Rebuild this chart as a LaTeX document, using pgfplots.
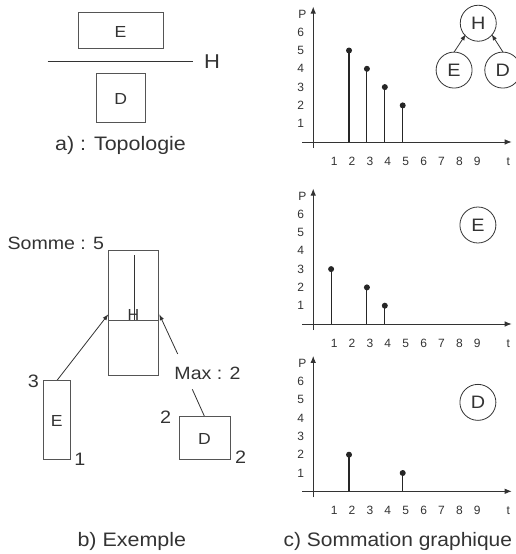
\documentclass[border=0pt]{standalone}
\usepackage{graphicx}
\usepackage{pgfplots}
\pgfplotsset{compat=1.18}
\usepackage{fontspec}
\setmainfont{Liberation Sans}
\usetikzlibrary{arrows.meta}
\definecolor{txt}{HTML}{333333}
\definecolor{ln}{HTML}{555555}
\newcommand{\fs}[1]{\fontsize{#1}{#1}\selectfont}
\newcommand{\sx}[1]{\scalebox{1.1}[1]{#1}}
\pgfplotsset{
  stemaxis/.style={
    x=17.9pt, y=18.3pt,
    xmin=-0.61, xmax=11.09, ymin=-0.33, ymax=7.4,
    axis lines=middle,
    axis line style={line width=0.9pt, txt, -{Latex[length=7pt,width=5.5pt]}},
    xtick={1,...,9}, ytick={1,...,6},
    major tick length=0pt,
    tick label style={font=\fs{12}, text=txt},
    /pgf/number format/assume math mode=true,
    xticklabel style={anchor=center, yshift=-19.5pt, xshift=3pt},
    yticklabel style={anchor=center, xshift=-12.5pt},
    clip=false,
    anchor=south west,
  },
  stem/.style={ycomb, mark=*, mark size=2.4pt, line width=1.1pt, color=black!85},
}
\tikzset{
  circ/.style={circle, draw=txt, line width=0.8pt, minimum size=36pt, inner sep=0pt, font=\fs{18}, text=txt},
}
\begin{document}
\begin{tikzpicture}
\useasboundingbox (0,0) rectangle (515pt,554pt);
% ---- overlay axis in pixel coordinates for diagrams a) and b) ----
\begin{axis}[at={(0pt,0pt)}, anchor=south west, scale only axis,
  width=515pt, height=554pt, xmin=0, xmax=515, ymin=0, ymax=554,
  y dir=reverse, hide axis, clip=false]
% a) Topologie
\draw[ln, line width=0.9pt] (78,12.7) rectangle (163,48.3);
\node[text=txt, font=\fs{16}] at (120.5,31.5) {\sx{E}};
\draw[txt, line width=1pt] (47.7,61.7) -- (193.3,61.7);
\node[text=txt, font=\fs{20}] at (212,61.7) {\sx{H}};
\draw[ln, line width=0.9pt] (96.3,73.3) rectangle (145,122.3);
\node[text=txt, font=\fs{16}] at (120.7,98.5) {\sx{D}};
\node[text=txt, font=\fs{19.5}] at (120.5,145) {\sx{a) : Topologie}};
% b) Exemple
\node[text=txt, font=\fs{17.8}] at (55.8,243.3) {\sx{Somme : 5}};
\draw[ln, line width=0.9pt] (108.3,250.7) rectangle (158.3,375.7);
\draw[ln, line width=0.9pt] (108.3,320) -- (158.3,320);
\draw[txt, line width=0.8pt] (134.3,255) -- (134.3,320);
\node[text=txt, font=\fs{16}, inner sep=0pt, anchor=south] at (133.5,320.5) {H};
\draw[txt, line width=0.8pt, -{Latex[length=6pt,width=4.5pt]}] (57.3,380) -- (108.3,314.3);
\draw[txt, line width=0.8pt, -{Latex[length=6pt,width=4.5pt]}] (177.7,354) -- (159.3,314.3);
\node[text=txt, font=\fs{17.8}] at (207.5,373.3) {\sx{Max : 2}};
\draw[txt, line width=0.8pt] (192.3,389.3) -- (204.3,416);
\draw[ln, line width=0.9pt] (43.3,380.3) rectangle (70.3,459.3);
\node[text=txt, font=\fs{16}] at (56.8,420.7) {\sx{E}};
\node[text=txt, font=\fs{18}] at (33.3,381.7) {\sx{3}};
\node[text=txt, font=\fs{18}] at (80,459.3) {\sx{1}};
\draw[ln, line width=0.9pt] (179,416) rectangle (230,459.3);
\node[text=txt, font=\fs{16}] at (204.5,439.3) {\sx{D}};
\node[text=txt, font=\fs{18}] at (165.7,417.3) {\sx{2}};
\node[text=txt, font=\fs{18}] at (240.7,457.3) {\sx{2}};
\node[text=txt, font=\fs{19.5}] at (131.8,541.5) {\sx{b) Exemple}};
\node[text=txt, font=\fs{19.5}, anchor=west, inner sep=0pt] at (283.5,541.5) {\scalebox{1.075}[1]{c) Sommation graphique}};
\end{axis}
% ---- top stem chart : H ----
\begin{axis}[stemaxis, at={(302.3pt,405.96pt)}]
\addplot[stem] coordinates {(2,5) (3,4) (4,3) (5,2)};
\node[text=txt, font=\fs{12}] at (-0.61,6.98) {P};
\node[text=txt, font=\fs{12}, yshift=-19.5pt] at (10.9,0) {t};
\node[circ] at (9.22,6.49) {\sx{H}};
\node[circ] at (7.87,3.93) {\sx{E}};
\node[circ] at (10.59,3.93) {\sx{D}};
\draw[txt, line width=0.8pt, -{Latex[length=6pt,width=4.5pt]}] (7.88,4.93) -- (8.52,5.88);
\draw[txt, line width=0.8pt, -{Latex[length=6pt,width=4.5pt]}] (10.59,4.93) -- (9.97,5.88);
\end{axis}
% ---- middle stem chart : E ----
\begin{axis}[stemaxis, at={(302.3pt,223.96pt)}]
\addplot[stem] coordinates {(1,3) (3,2) (4,1)};
\node[text=txt, font=\fs{12}] at (-0.61,6.98) {P};
\node[text=txt, font=\fs{12}, yshift=-19.5pt] at (10.9,0) {t};
\node[circ] at (9.2,5.41) {\sx{E}};
\end{axis}
% ---- bottom stem chart : D ----
\begin{axis}[stemaxis, at={(302.3pt,56.66pt)}]
\addplot[stem] coordinates {(2,2) (5,1)};
\node[text=txt, font=\fs{12}] at (-0.61,6.98) {P};
\node[text=txt, font=\fs{12}, yshift=-19.5pt] at (10.9,0) {t};
\node[circ] at (9.2,4.86) {\sx{D}};
\end{axis}
\end{tikzpicture}
\end{document}
